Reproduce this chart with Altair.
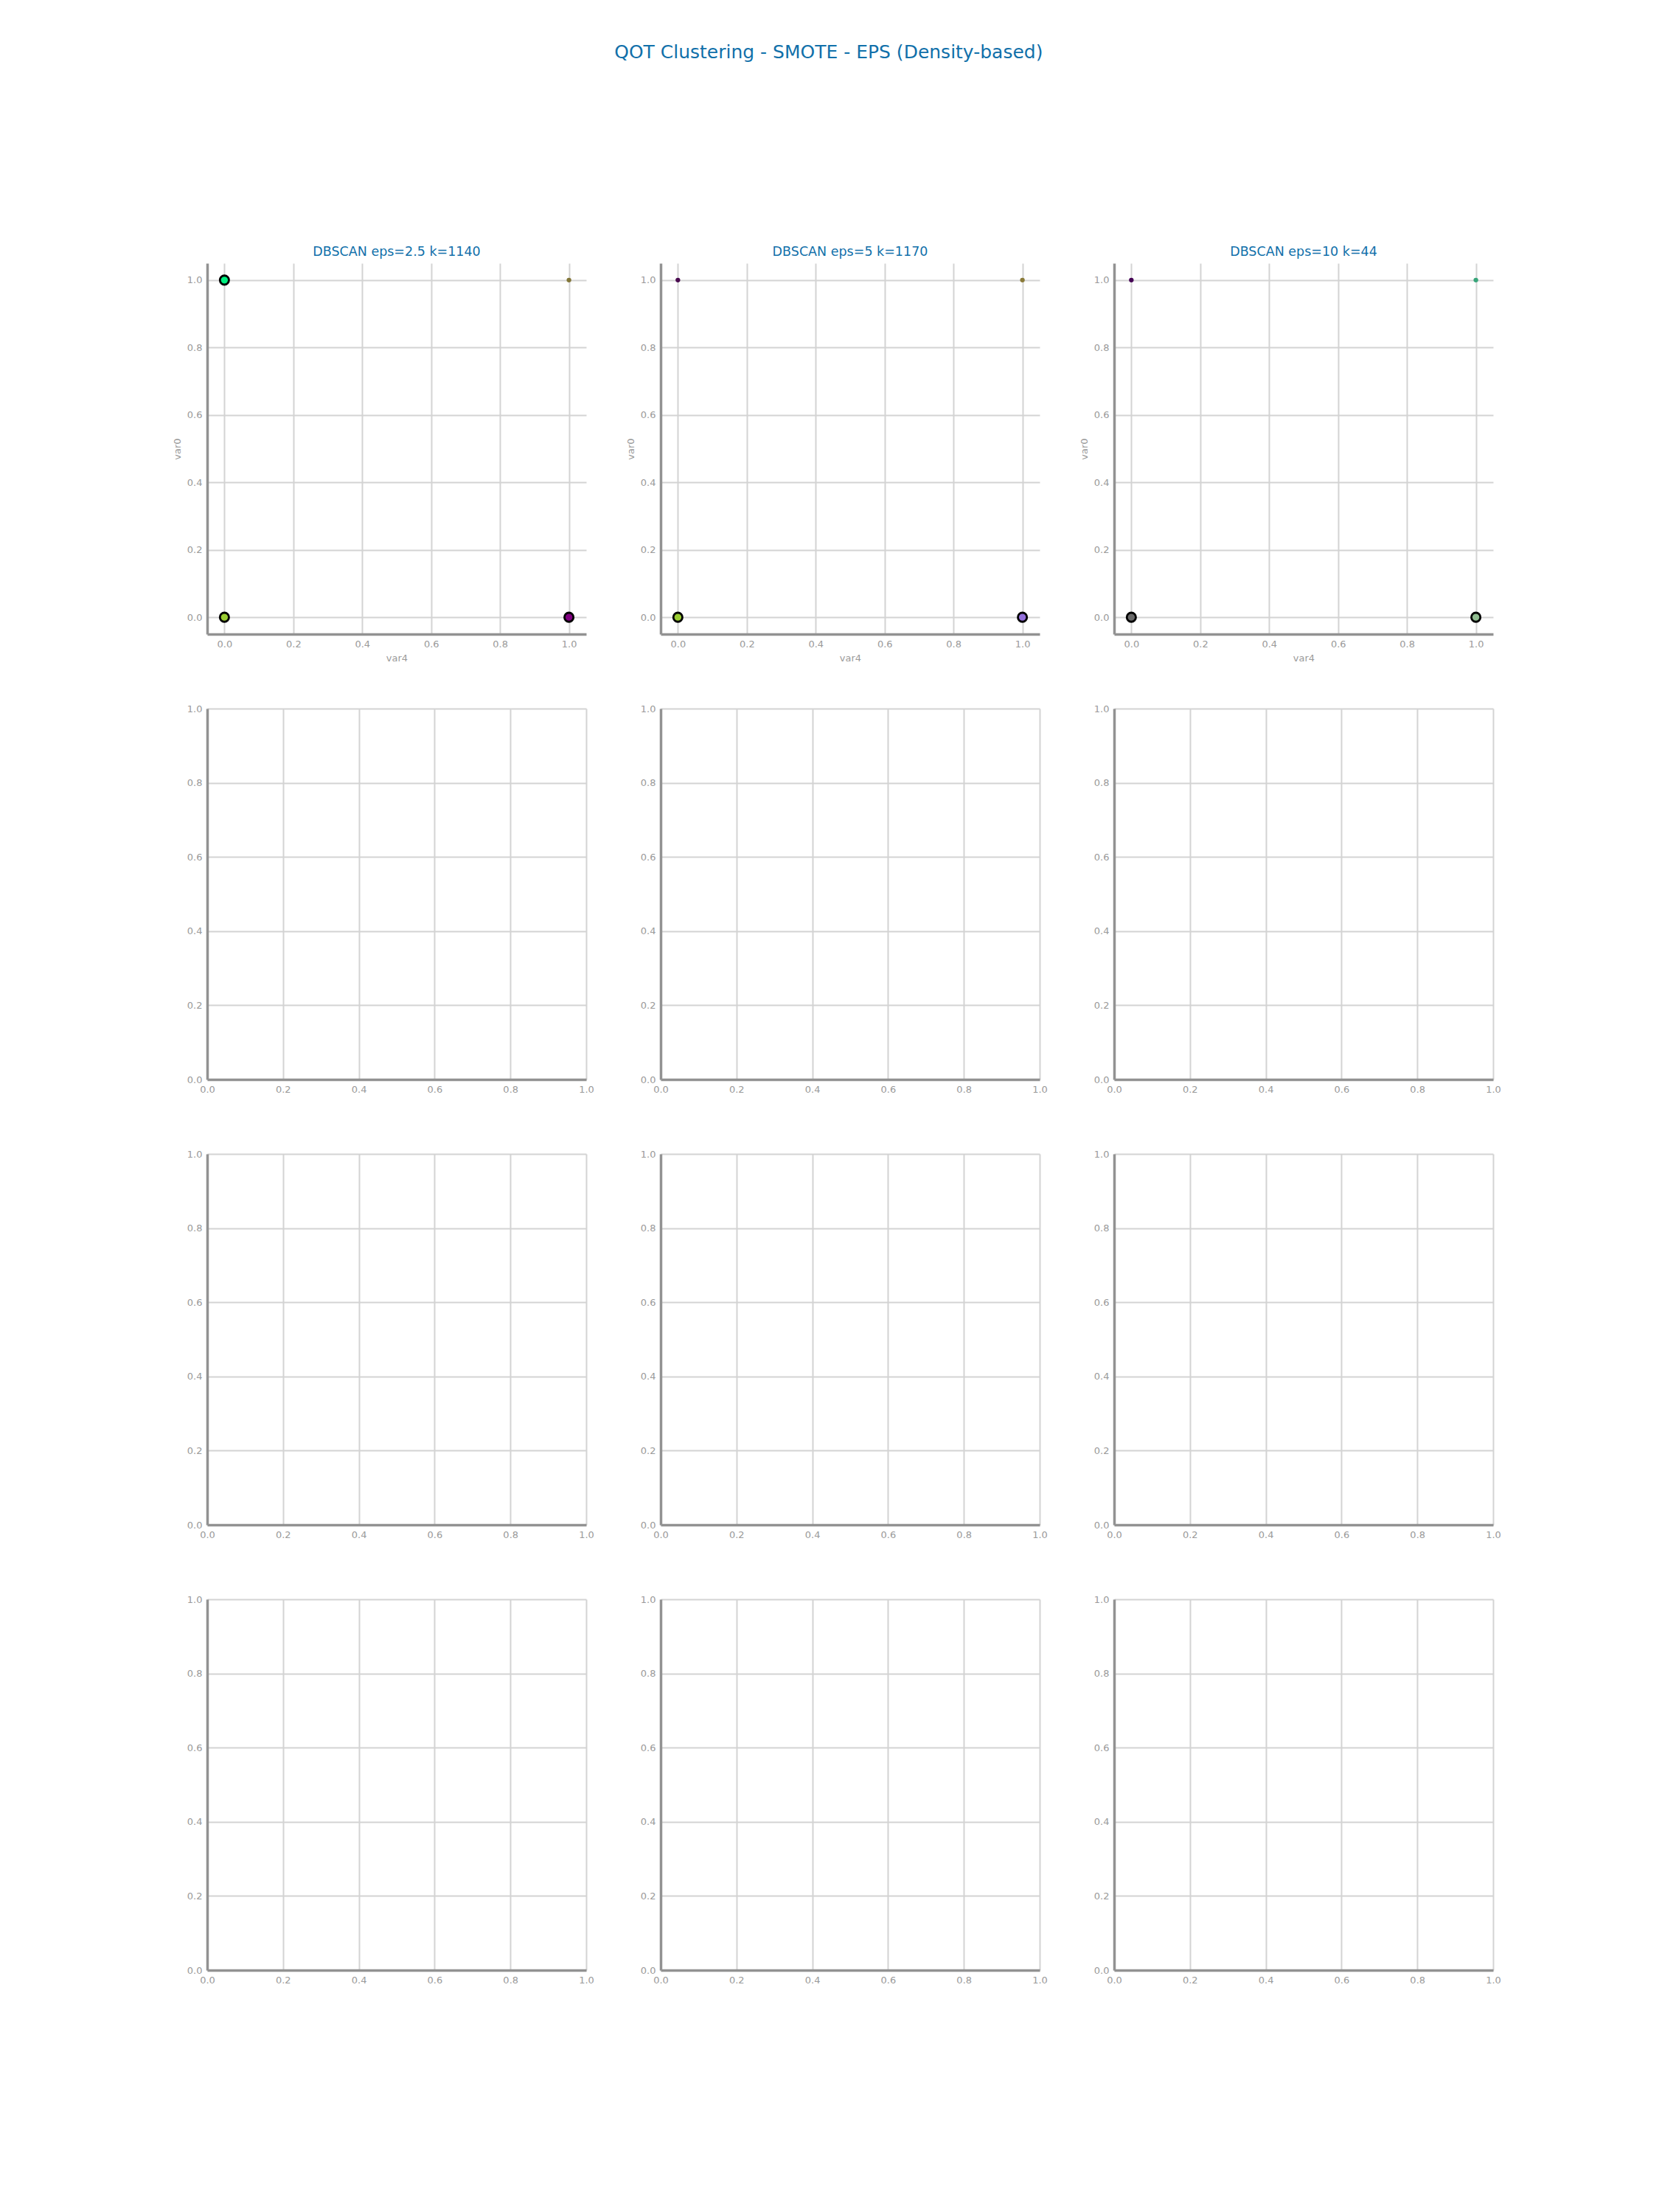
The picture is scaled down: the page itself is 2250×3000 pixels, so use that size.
import altair as alt
import pandas as pd

# ---- data ----
main_title = "QOT Clustering - SMOTE - EPS (Density-based)"
panel_titles = ["DBSCAN eps=2.5 k=1140", "DBSCAN eps=5 k=1170", "DBSCAN eps=10 k=44"]
tick_values = [0.0, 0.2, 0.4, 0.6, 0.8, 1.0]

# panel 1 : eps=2.5
p1_var4 = [1, 0, 0, 1]
p1_var0 = [1, 1, 0, 0]
p1_kind = ["member", "centroid", "centroid", "centroid"]
p1_color = ["#827638", "#00f080", "#9acd32", "#800080"]

# panel 2 : eps=5
p2_var4 = [0, 1, 0, 1]
p2_var0 = [1, 1, 0, 0]
p2_kind = ["member", "member", "centroid", "centroid"]
p2_color = ["#4a0b50", "#8a7a38", "#9acd32", "#9370db"]

# panel 3 : eps=10
p3_var4 = [0, 1, 0, 1]
p3_var0 = [1, 1, 0, 0]
p3_kind = ["member", "member", "centroid", "centroid"]
p3_color = ["#440154", "#38a57a", "#696969", "#8fbc8f"]

W, H = 514, 503
TITLE_COLOR = "#1170aa"
FONT = "DejaVu Sans"


def scatter(xs, ys, kinds, colors, title):
    df = pd.DataFrame({"var4": xs, "var0": ys, "kind": kinds, "color": colors})
    xenc = alt.X("var4:Q",
                 scale=alt.Scale(domain=[-0.05, 1.05], nice=False, zero=False),
                 axis=alt.Axis(values=tick_values, format=".1f", title="var4"))
    yenc = alt.Y("var0:Q",
                 scale=alt.Scale(domain=[-0.05, 1.05], nice=False, zero=False),
                 axis=alt.Axis(values=tick_values, format=".1f", title="var0"))
    base = alt.Chart(df)
    members = base.transform_filter(alt.datum.kind == "member").mark_circle(
        size=40, opacity=1).encode(x=xenc, y=yenc, color=alt.Color("color:N", scale=None))
    cents = base.transform_filter(alt.datum.kind == "centroid").mark_circle(
        size=150, opacity=1, stroke="black", strokeWidth=2.8).encode(
        x=xenc, y=yenc, color=alt.Color("color:N", scale=None))
    return alt.layer(members, cents).properties(
        width=W, height=H,
        title=alt.TitleParams(title, fontSize=17.5, color=TITLE_COLOR, font=FONT,
                              fontWeight="normal", offset=7))


def empty_panel():
    df = pd.DataFrame({"var4": pd.Series([], dtype=float), "var0": pd.Series([], dtype=float)})
    return alt.Chart(df).mark_circle().encode(
        x=alt.X("var4:Q", scale=alt.Scale(domain=[0, 1], nice=False, zero=False),
                axis=alt.Axis(values=tick_values, format=".1f", title=None)),
        y=alt.Y("var0:Q", scale=alt.Scale(domain=[0, 1], nice=False, zero=False),
                axis=alt.Axis(values=tick_values, format=".1f", title=None)),
    ).properties(width=W, height=H)


panels = [
    scatter(p1_var4, p1_var0, p1_kind, p1_color, panel_titles[0]),
    scatter(p2_var4, p2_var0, p2_kind, p2_color, panel_titles[1]),
    scatter(p3_var4, p3_var0, p3_kind, p3_color, panel_titles[2]),
] + [empty_panel() for _ in range(9)]

chart = alt.concat(*panels, columns=3, spacing={"row": 101, "column": 101}, bounds="flush").properties(
    title=alt.TitleParams(main_title, fontSize=25, color=TITLE_COLOR, font=FONT,
                          fontWeight="normal", anchor="middle", offset=249, dx=-11),
    padding={"left": 226, "top": 50, "right": 20, "bottom": 20},
    background="white",
).configure_view(stroke=None).configure_axis(
    domainColor="#929292", domainWidth=3.5, gridColor="#d3d3d3", gridWidth=2,
    labelColor="#9a9a9a", titleColor="#9a9a9a", labelFont=FONT, titleFont=FONT,
    labelFontSize=13, titleFontSize=13, titleFontWeight="normal",
    ticks=False, labelPadding=7, titlePadding=6, labelFlush=False,
)

chart.save("out.html", embed_options={"renderer": "svg", "actions": False})
